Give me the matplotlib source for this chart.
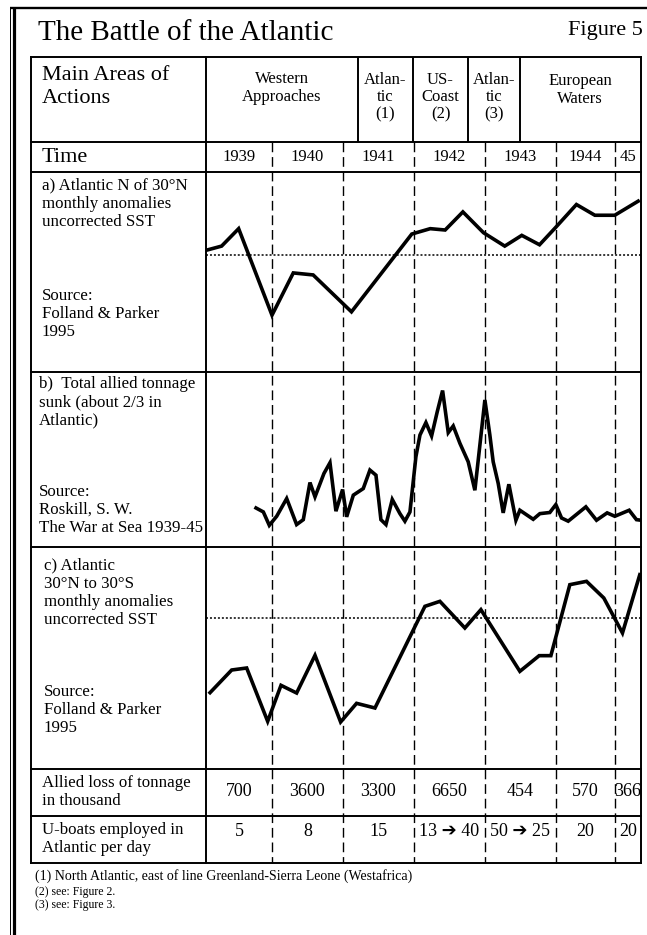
import numpy as np
import matplotlib.pyplot as plt

W, H = 647, 935
plt.rcParams['font.family'] = ['Liberation Serif', 'DejaVu Sans']

# a) Atlantic N of 30N, SST anomalies (arbitrary units, read off the drawing)
years_a = [1939.08, 1939.29, 1939.53, 1940.0, 1940.30, 1940.58, 1941.12,
           1941.97, 1942.23, 1942.44, 1942.69, 1942.98, 1943.28, 1943.52,
           1943.77, 1943.99, 1944.29, 1944.55, 1944.83, 1945.16]
sst_north = [0.04, 0.07, 0.20, -0.445, -0.13, -0.145, -0.42,
             0.16, 0.20, 0.19, 0.325, 0.17, 0.07, 0.15,
             0.08, 0.205, 0.38, 0.30, 0.30, 0.405]

# b) total allied tonnage sunk per month (thousand tons, estimated)
years_b = [1939.775, 1939.878, 1939.962, 1940.066, 1940.207, 1940.347, 1940.441,
           1940.535, 1940.606, 1940.732, 1940.817, 1940.901, 1940.995, 1941.052,
           1941.146, 1941.286, 1941.380, 1941.465, 1941.535, 1941.606, 1941.695,
           1941.803, 1941.873, 1941.944, 1942.028, 1942.085, 1942.169, 1942.249,
           1942.329, 1942.404, 1942.484, 1942.554, 1942.648, 1942.765, 1942.859,
           1943.0, 1943.070, 1943.117, 1943.188, 1943.258, 1943.338, 1943.437,
           1943.493, 1943.681, 1943.775, 1943.915, 1944.0, 1944.080, 1944.174,
           1944.423, 1944.573, 1944.723, 1944.831, 1945.033, 1945.136, 1945.2]
tonnage = [207, 186, 115, 163, 257, 119, 145,
           342, 266, 390, 447, 190, 305, 160,
           275, 310, 408, 381, 145, 119, 252,
           177, 137, 186, 479, 594, 660, 589,
           718, 830, 607, 642, 550, 452, 301,
           780, 594, 452, 337, 181, 333, 142,
           195, 147, 177, 183, 225, 154, 137,
           213, 142, 181, 163, 195, 145, 142]

# c) Atlantic 30N to 30S, SST anomalies
years_c = [1939.127, 1939.432, 1939.643, 1939.939, 1940.127, 1940.347, 1940.606,
           1940.967, 1941.192, 1941.451, 1942.155, 1942.366, 1942.718, 1942.944,
           1943.211, 1943.493, 1943.765, 1943.930, 1944.197, 1944.432, 1944.676,
           1944.939, 1945.183]
sst_trop = [-0.56, -0.39, -0.375, -0.775, -0.505, -0.5625, -0.28,
            -0.78, -0.64, -0.675, 0.0875, 0.125, -0.075, 0.0625,
            -0.1625, -0.40, -0.2825, -0.2825, 0.25, 0.275, 0.15,
            -0.1125, 0.325]

t0, t1 = 1939.07, 1945.2
year_lines = [1940, 1941, 1942, 1943, 1944, 1944.83]
year_labels = ["1939", "1940", "1941", "1942", "1943", "1944", "45"]
loss = ["700", "3600", "3300", "6650", "454", "570", "366"]
uboats = ["5", "8", "15", "13 \u2794 40", "50 \u2794 25", "20", "20"]

areas = ["Western\nApproaches", "Atlan-\ntic\n(1)", "US-\nCoast\n(2)",
         "Atlan-\ntic\n(3)", "European\nWaters"]
area_edges = [t0, 1941.21, 1941.99, 1942.76, 1943.49, t1]

fig = plt.figure(figsize=(W / 100, H / 100), dpi=100)


def box(x0, y0, x1, y1):
    return [x0 / W, 1 - y1 / H, (x1 - x0) / W, (y1 - y0) / H]


page = fig.add_axes([0, 0, 1, 1])
page.set_xlim(0, W)
page.set_ylim(H, 0)
page.axis('off')

# outer frame of the page
page.vlines(13.5, 7, H, color='black', lw=2.3)
page.vlines(10, 7, H, color='black', lw=0.7)
page.hlines(7.5, 10, W, color='black', lw=1.7)

page.text(38, 33, "The Battle of the Atlantic", fontsize=21, va='center')
page.text(643, 31, "Figure 5", fontsize=16, va='center', ha='right')

# table grid
rows = [57, 142, 172, 371.5, 547, 769, 816, 863]
page.hlines(rows, 31, 641, color='black', lw=1.4, capstyle='projecting')
page.vlines([31, 206, 641], 57, 863, color='black', lw=1.4, capstyle='projecting')

lab = dict(fontsize=12.2, va='center', linespacing=1.18)
page.text(42, 87, "Main Areas of\nActions", fontsize=16, va='center', linespacing=1.22)
page.text(42, 157, "Time", fontsize=16, va='center')
page.text(42, 204, "a) Atlantic N of 30\u00b0N\nmonthly anomalies\nuncorrected SST", **lab)
page.text(42, 314, "Source:\nFolland & Parker\n1995", **lab)
page.text(39, 402, "b)  Total allied tonnage\nsunk (about 2/3 in\nAtlantic)", **lab)
page.text(39, 510, "Source:\nRoskill, S. W.\nThe War at Sea 1939-45", **lab)
page.text(44, 593, "c) Atlantic\n30\u00b0N to 30\u00b0S\nmonthly anomalies\nuncorrected SST", **lab)
page.text(44, 710, "Source:\nFolland & Parker\n1995", **lab)
page.text(42, 792, "Allied loss of tonnage\nin thousand", **lab)
page.text(42, 839, "U-boats employed in\nAtlantic per day", **lab)

page.text(35, 876, "(1) North Atlantic, east of line Greenland-Sierra Leone (Westafrica)",
          fontsize=10, va='center')
page.text(35, 892, "(2) see: Figure 2.", fontsize=8.5, va='center')
page.text(35, 905, "(3) see: Figure 3.", fontsize=8.5, va='center')

# time columns
tab = fig.add_axes(box(206, 0, 641, H))
tab.set_xlim(t0, t1)
tab.set_ylim(H, 0)
tab.axis('off')
tab.patch.set_visible(False)

tab.vlines(area_edges[1:-1], 57, 142, color='black', lw=1.4)
area_y = [88, 97, 97, 97, 90]
for name, a, b, y in zip(areas, area_edges[:-1], area_edges[1:], area_y):
    tab.text((a + b) / 2, y, name, ha='center', va='center', fontsize=12,
             linespacing=1.12)

tab.vlines(year_lines, 142, 863, color='black', lw=1.0, linestyles=(0, (7, 3.5)))
mids = [(a + b) / 2 for a, b in zip([t0] + year_lines, year_lines + [t1])]
for x, yl, l, u in zip(mids, year_labels, loss, uboats):
    tab.text(x, 157, yl, ha='center', va='center', fontsize=12)
    tab.text(x, 792, l, ha='center', va='center', fontsize=13)
    tab.text(x, 831, u, ha='center', va='center', fontsize=13)

# the three curves
panels = [
    ((172, 371.5), years_a, sst_north, (-0.865, 0.6225), True),
    ((371.5, 547), years_b, tonnage, (0, 931), False),
    ((547, 769), years_c, sst_trop, (-1.1325, 0.5325), True),
]
for (top, bot), xs, ys, lim, base in panels:
    ax = fig.add_axes(box(206, top, 641, bot))
    ax.set_xlim(t0, t1)
    ax.set_ylim(*lim)
    ax.axis('off')
    ax.patch.set_visible(False)
    if base:
        ax.axhline(0, color='black', lw=1.1, ls=(0, (1.3, 1.3)))
    ax.plot(xs, ys, color='black', lw=2.6, solid_joinstyle='miter')

fig.savefig('out.png', dpi=100)
